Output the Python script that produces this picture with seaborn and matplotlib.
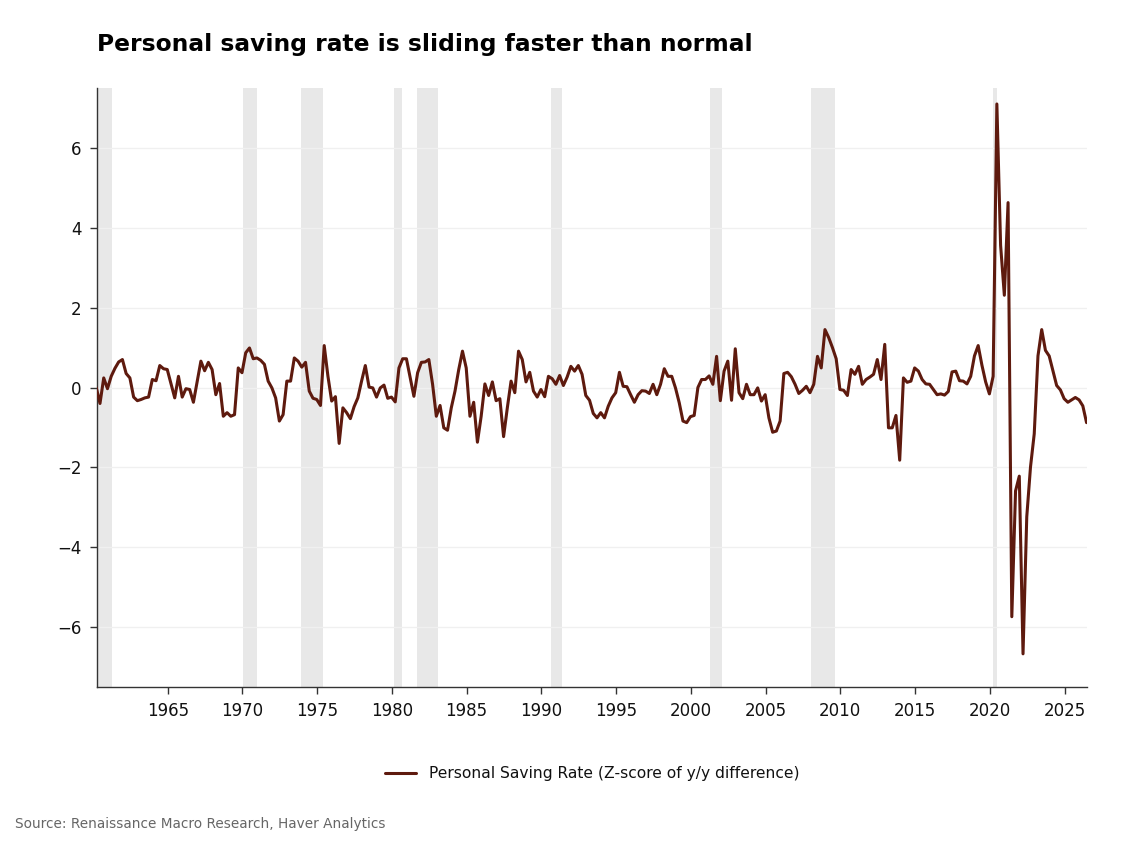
import numpy as np
import pandas as pd
import matplotlib
matplotlib.use("Agg")
import matplotlib.pyplot as plt
import seaborn as sns

# ---------------- data ----------------
start_quarter = "1960Q1"
values = [
    0.00, -0.40, 0.24, -0.03,      # 1960
    0.28, 0.48, 0.64, 0.70,        # 1961
    0.35, 0.24, -0.24, -0.33,      # 1962
    -0.30, -0.26, -0.24, 0.20,     # 1963
    0.17, 0.55, 0.47, 0.45,        # 1964
    0.10, -0.26, 0.28, -0.24,      # 1965
    -0.03, -0.05, -0.37, 0.15,     # 1966
    0.66, 0.42, 0.63, 0.45,        # 1967
    -0.18, 0.10, -0.72, -0.63,     # 1968
    -0.72, -0.68, 0.49, 0.37,      # 1969
    0.87, 0.99, 0.72, 0.74,        # 1970
    0.68, 0.58, 0.16, -0.01,       # 1971
    -0.26, -0.84, -0.68, 0.16,     # 1972
    0.16, 0.74, 0.66, 0.51,        # 1973
    0.63, -0.09, -0.27, -0.30,     # 1974
    -0.45, 1.05, 0.28, -0.34,      # 1975
    -0.23, -1.40, -0.51, -0.63,    # 1976
    -0.78, -0.48, -0.26, 0.16,     # 1977
    0.55, 0.01, -0.01, -0.24,      # 1978
    -0.01, 0.06, -0.27, -0.24,     # 1979
    -0.36, 0.49, 0.72, 0.72,       # 1980
    0.25, -0.22, 0.37, 0.63,       # 1981
    0.64, 0.70, 0.08, -0.72,       # 1982
    -0.45, -1.01, -1.07, -0.51,    # 1983
    -0.09, 0.45, 0.91, 0.49,       # 1984
    -0.72, -0.37, -1.37, -0.72,    # 1985
    0.09, -0.20, 0.14, -0.33,      # 1986
    -0.28, -1.23, -0.51, 0.16,     # 1987
    -0.13, 0.91, 0.70, 0.14,       # 1988
    0.38, -0.09, -0.24, -0.05,     # 1989
    -0.23, 0.28, 0.22, 0.08,       # 1990
    0.30, 0.05, 0.26, 0.53,        # 1991
    0.41, 0.55, 0.33, -0.20,       # 1992
    -0.32, -0.65, -0.76, -0.63,    # 1993
    -0.76, -0.47, -0.26, -0.13,    # 1994
    0.38, 0.03, 0.02, -0.18,       # 1995
    -0.37, -0.18, -0.08, -0.09,    # 1996
    -0.15, 0.08, -0.18, 0.08,      # 1997
    0.47, 0.28, 0.28, -0.01,       # 1998
    -0.38, -0.84, -0.88, -0.73,    # 1999
    -0.70, 0.00, 0.20, 0.20,       # 2000
    0.29, 0.08, 0.78, -0.33,       # 2001
    0.41, 0.66, -0.32, 0.97,       # 2002
    -0.13, -0.28, 0.08, -0.18,     # 2003
    -0.18, -0.01, -0.34, -0.18,    # 2004
    -0.76, -1.12, -1.09, -0.84,    # 2005
    0.35, 0.38, 0.27, 0.08,        # 2006
    -0.15, -0.07, 0.03, -0.13,     # 2007
    0.08, 0.78, 0.49, 1.45,        # 2008
    1.25, 1.00, 0.72, -0.05,       # 2009
    -0.07, -0.20, 0.45, 0.33,      # 2010
    0.53, 0.08, 0.20, 0.26,        # 2011
    0.33, 0.70, 0.20, 1.08,        # 2012
    -1.01, -1.01, -0.70, -1.82,    # 2013
    0.24, 0.13, 0.16, 0.49,        # 2014
    0.41, 0.20, 0.09, 0.08,        # 2015
    -0.05, -0.18, -0.16, -0.19,    # 2016
    -0.10, 0.39, 0.41, 0.17,       # 2017
    0.16, 0.09, 0.28, 0.79,        # 2018
    1.05, 0.56, 0.14, -0.16,       # 2019
    0.28, 7.10, 3.56, 2.31,        # 2020
    4.63, -5.74, -2.59, -2.22,     # 2021
    -6.67, -3.24, -1.99, -1.16,    # 2022
    0.79, 1.45, 0.93, 0.79,        # 2023
    0.42, 0.05, -0.06, -0.28,      # 2024
    -0.37, -0.31, -0.25, -0.31,    # 2025
    -0.46, -0.88,                  # 2026
]

recession_starts = [1960.27, 1970.02, 1973.94, 1980.15, 1981.67, 1990.66, 2001.30, 2008.04, 2020.22]
recession_ends   = [1961.27, 1971.00, 1975.37, 1980.70, 1983.07, 1991.37, 2002.08, 2009.62, 2020.49]

x_ticks = [1965, 1970, 1975, 1980, 1985, 1990, 1995, 2000, 2005, 2010, 2015, 2020, 2025]
y_ticks = [-6, -4, -2, 0, 2, 4, 6]

series_label = "Personal Saving Rate (Z-score of y/y difference)"
title = "Personal saving rate is sliding faster than normal"
source = "Source: Renaissance Macro Research, Haver Analytics"

# ---------------- build frame ----------------
periods = pd.period_range(start_quarter, periods=len(values), freq="Q")
xpos = periods.year + (periods.quarter - 1) * 0.25 + 0.22
df = pd.DataFrame({"date": xpos, "value": values})

# ---------------- plot ----------------
sns.set_theme(style="white")
plt.rcParams["font.family"] = ["DejaVu Sans"]

fig = plt.figure(figsize=(11.28, 8.42), dpi=100)
ax = fig.add_axes([97 / 1128, 1 - 687 / 842, (1087 - 97) / 1128, (687 - 88) / 842])

for s, e in zip(recession_starts, recession_ends):
    ax.axvspan(s, e, color="#e8e8e8", lw=0, zorder=0)

for yv in y_ticks:
    ax.axhline(yv, color="#f0f0f0", lw=1.0, zorder=0.5)

sns.lineplot(data=df, x="date", y="value", ax=ax, color="#5e1a0e", lw=2.2,
             label=series_label, zorder=3)

ax.set_xlim(1960.27, 2026.5)
ax.set_ylim(-7.5, 7.5)
ax.set_xticks(x_ticks)
ax.set_yticks(y_ticks)
ax.set_yticklabels([f"{t}" if t >= 0 else f"\u2212{abs(t)}" for t in y_ticks])
ax.set_xlabel("")
ax.set_ylabel("")
ax.tick_params(axis="both", labelsize=12, length=5, width=1, color="#333333",
               labelcolor="#111111", left=True, bottom=True, pad=6)
for sp in ["top", "right"]:
    ax.spines[sp].set_visible(False)
for sp in ["left", "bottom"]:
    ax.spines[sp].set_color("#333333")
    ax.spines[sp].set_linewidth(1.0)

leg = ax.legend(loc="upper center", bbox_to_anchor=(0.5, -0.109), frameon=False,
                fontsize=11.2, handlelength=2.0)
for t in leg.get_texts():
    t.set_color("#111111")

fig.text(97 / 1128, 1 - 45 / 842, title, fontsize=16.8, fontweight="bold",
         ha="left", va="center", color="black")
fig.text(15 / 1128, 1 - 824 / 842, source, fontsize=9.85, color="#666666",
         ha="left", va="center")

fig.savefig("out.png", dpi=100)
